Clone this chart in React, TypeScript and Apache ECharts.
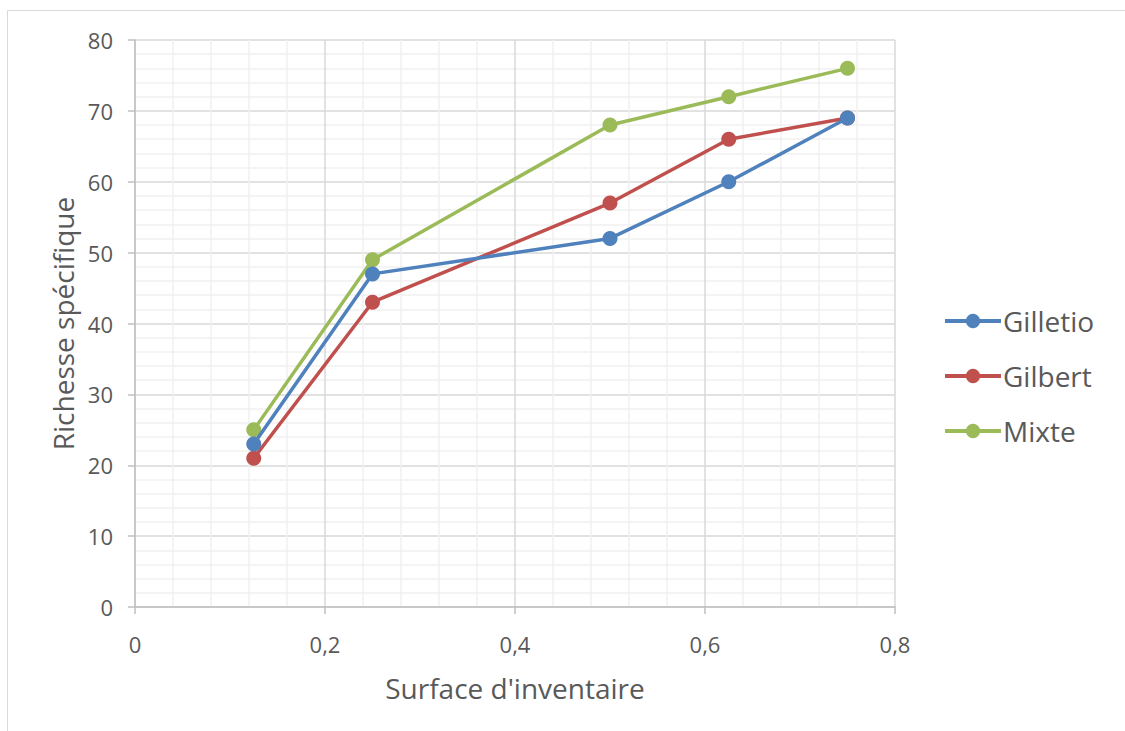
import React, { useEffect, useRef } from "react";
import * as echarts from "echarts";

const xValues = [0.125, 0.25, 0.5, 0.625, 0.75];
const gilletio = [23, 47, 52, 60, 69];
const gilbert = [21, 43, 57, 66, 69];
const mixte = [25, 49, 68, 72, 76];
const seriesNames = ["Gilletio", "Gilbert", "Mixte"];
const colors = ["#4f81bd", "#c0504d", "#9bbb59"];

const FONT = "'Open Sans', 'Noto Sans', sans-serif";

export default function App() {
  const ref = useRef<HTMLDivElement>(null);
  useEffect(() => {
    if (!ref.current) return;
    const chart = echarts.init(ref.current, undefined, { renderer: "svg" });
    const datas = [gilletio, gilbert, mixte];
    chart.setOption({
      animation: false,
      backgroundColor: "#ffffff",
      textStyle: { fontFamily: FONT },
      graphic: [
        {
          type: "rect",
          shape: { x: 7.5, y: 10.5, width: 1140, height: 740 },
          style: { fill: "none", stroke: "#d9d9d9", lineWidth: 1 },
          silent: true,
        },
      ],
      grid: { left: 135, right: 230, top: 40, bottom: 124 },
      legend: {
        orient: "vertical",
        left: 938,
        top: 302,
        itemWidth: 56,
        itemHeight: 18,
        itemGap: 27,
        data: seriesNames,
        lineStyle: { width: 4 },
        textStyle: { fontSize: 28, color: "#595959", fontFamily: FONT, padding: [0, 0, 0, -3] },
      },
      xAxis: {
        type: "value",
        min: 0,
        max: 0.8,
        interval: 0.2,
        name: "Surface d'inventaire",
        nameLocation: "middle",
        nameGap: 67,
        nameTextStyle: { fontSize: 28, color: "#595959", fontFamily: FONT },
        axisLine: { show: true, lineStyle: { color: "#bfbfbf", width: 1.5 } },
        axisTick: { show: true, length: 7, lineStyle: { color: "#bfbfbf", width: 1.5 } },
        axisLabel: {
          fontSize: 22,
          color: "#595959",
          margin: 26,
          formatter: (v: number) => String(Math.round(v * 10) / 10).replace(".", ","),
        },
        splitLine: { show: true, lineStyle: { color: "#d9d9d9", width: 1.5 } },
        minorTick: { show: false, splitNumber: 5 },
        minorSplitLine: { show: true, lineStyle: { color: "#f0f0f0", width: 1.5 } },
      },
      yAxis: {
        type: "value",
        min: 0,
        max: 80,
        interval: 10,
        name: "Richesse spécifique",
        nameLocation: "middle",
        nameGap: 57,
        nameTextStyle: { fontSize: 28, color: "#595959", fontFamily: FONT },
        axisLine: { show: true, lineStyle: { color: "#bfbfbf", width: 1.5 } },
        axisTick: { show: true, length: 7, lineStyle: { color: "#bfbfbf", width: 1.5 } },
        axisLabel: { fontSize: 22, color: "#595959", margin: 22 },
        splitLine: { show: true, lineStyle: { color: "#d9d9d9", width: 1.5 } },
        minorTick: { show: false, splitNumber: 5 },
        minorSplitLine: { show: true, lineStyle: { color: "#f0f0f0", width: 1.5 } },
      },
      series: seriesNames.map((name, i) => ({
        name,
        type: "line",
        data: xValues.map((x, j) => [x, datas[i][j]]),
        symbol: "circle",
        symbolSize: 15,
        lineStyle: { color: colors[i], width: 3.5 },
        itemStyle: { color: colors[i] },
        z: 2 + (i === 2 ? 0 : i === 0 ? 2 : 1),
      })),
    });
    return () => chart.dispose();
  }, []);
  return (
    <div
      ref={ref}
      style={{ position: "absolute", left: 0, top: 0, width: 1125, height: 731 }}
    />
  );
}
